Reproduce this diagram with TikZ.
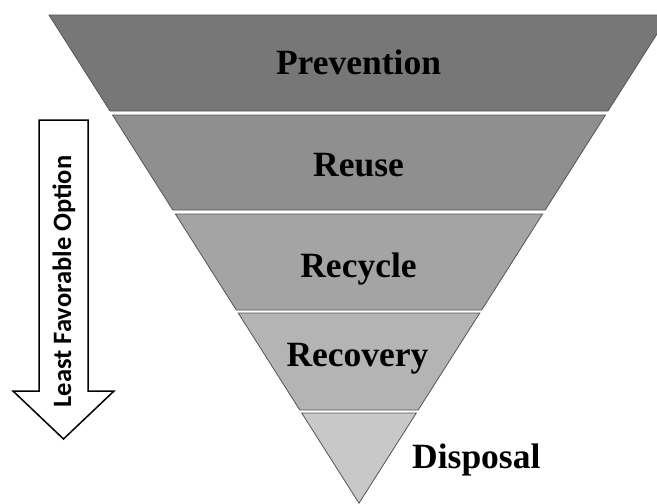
\documentclass[tikz,border=0pt]{standalone}
\usepackage{fontspec}
\setmainfont{Liberation Serif}
\newfontfamily\calibfont{Carlito}
\definecolor{bandA}{HTML}{777777}
\definecolor{bandB}{HTML}{8F8F8F}
\definecolor{bandC}{HTML}{A4A4A4}
\definecolor{bandD}{HTML}{B4B4B4}
\definecolor{bandE}{HTML}{C8C8C8}
\definecolor{edgegray}{HTML}{555555}
\begin{document}
\begin{tikzpicture}[x=1pt,y=-1pt,
  band/.style={draw=edgegray,line width=0.8pt,line join=miter},
  bandlabel/.style={font=\bfseries\fontsize{35.5}{40}\selectfont,anchor=base,inner sep=0pt},
  arrowshape/.style={draw=black,fill=white,line width=1.5pt,line join=miter},
  arrowlabel/.style={font=\calibfont\bfseries\fontsize{26.5}{30}\selectfont,rotate=90,anchor=base,inner sep=0pt}]
\useasboundingbox (0,0) rectangle (657,504);
\begin{scope}
\clip (0,0) rectangle (657,504);
\path[band,fill=bandA] (49,15) -- (669,15) -- (608.0,111) -- (110.0,111) -- cycle;
\path[band,fill=bandB] (112.5,115) -- (605.5,115) -- (545.2,210) -- (172.8,210) -- cycle;
\path[band,fill=bandC] (175.4,214) -- (542.6,214) -- (481.7,310) -- (236.3,310) -- cycle;
\path[band,fill=bandD] (238.2,313) -- (479.8,313) -- (418.2,410) -- (299.8,410) -- cycle;
\path[band,fill=bandE] (301.7,413) -- (416.3,413) -- (359,503.2) -- cycle;
\end{scope}
\node[bandlabel] (prevention) at (358.5,74) {Prevention};
\node[bandlabel] (reuse) at (358.5,176) {Reuse};
\node[bandlabel] (recycle) at (358.5,277) {Recycle};
\node[bandlabel] (recovery) at (357.5,366) {Recovery};
\node[bandlabel,anchor=base west] (disposal) at (412,468) {Disposal};
\path[arrowshape] (39,120) -- (88,120) -- (88,391) -- (114,391) -- (63.5,439) -- (13,391) -- (39,391) -- cycle;
\node[arrowlabel] (least) at (71,281.5) {Least Favorable Option};
\end{tikzpicture}
\end{document}
